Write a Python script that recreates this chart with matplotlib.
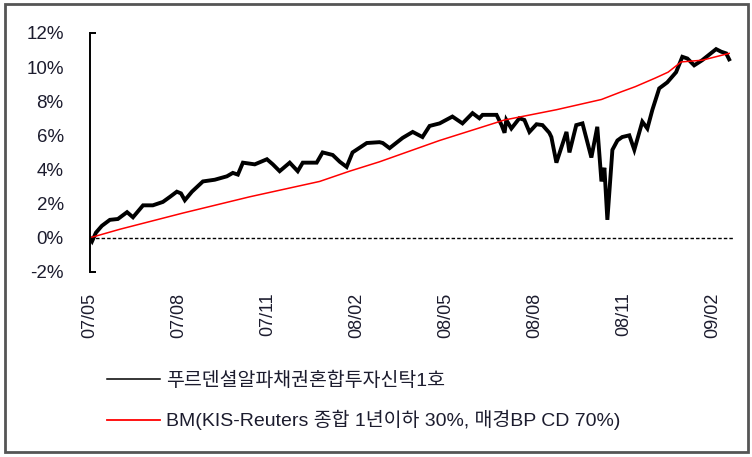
import numpy as np
import matplotlib.pyplot as plt
from matplotlib.lines import Line2D
from matplotlib.patches import Rectangle

plt.rcParams['font.family'] = ['Liberation Sans', 'Noto Sans CJK KR', 'DejaVu Sans']
plt.rcParams['axes.unicode_minus'] = False

# months since 2007/05
fund_month = [0.00, 0.07, 0.20, 0.40, 0.67, 0.94, 1.25, 1.45, 1.79, 2.12, 2.46, 2.70,
              2.93, 3.07, 3.20, 3.44, 3.81, 4.21, 4.62, 4.82, 4.99, 5.16, 5.56, 5.97,
              6.17, 6.40, 6.74, 7.01, 7.18, 7.65, 7.85, 8.19, 8.43, 8.66, 8.86, 9.34,
              9.77, 9.88, 10.11, 10.55, 10.89, 11.22, 11.46, 11.80, 12.23, 12.57, 12.91,
              13.14, 13.25, 13.72, 13.89, 13.99, 14.05, 14.22, 14.49, 14.66, 14.83,
              15.07, 15.27, 15.50, 15.57, 15.74, 15.91, 16.08, 16.18, 16.41, 16.62,
              16.92, 17.12, 17.26, 17.36, 17.46, 17.63, 17.80, 17.96, 18.20, 18.37,
              18.64, 18.81, 18.98, 19.21, 19.48, 19.78, 19.99, 20.16, 20.39, 20.66,
              21.13, 21.30, 21.47, 21.57]
fund_ret = [0.0, -0.2, 0.3, 0.7, 1.05, 1.1, 1.5, 1.2, 1.9, 1.9, 2.1, 2.4,
            2.7, 2.6, 2.2, 2.7, 3.3, 3.4, 3.6, 3.8, 3.7, 4.4, 4.3, 4.6,
            4.3, 3.9, 4.4, 3.9, 4.4, 4.4, 5.0, 4.85, 4.45, 4.15, 5.0, 5.55,
            5.6, 5.55, 5.25, 5.85, 6.2, 5.9, 6.55, 6.7, 7.1, 6.7, 7.3,
            7.0, 7.2, 7.2, 6.6, 6.15, 6.9, 6.4, 7.0, 6.9, 6.2,
            6.65, 6.6, 6.15, 5.9, 4.4, 5.3, 6.2, 5.0, 6.6, 6.7,
            4.7, 6.5, 3.3, 4.1, 1.05, 5.15, 5.7, 5.9, 6.0, 5.15,
            6.8, 6.4, 7.5, 8.75, 9.1, 9.7, 10.6, 10.5, 10.1, 10.4,
            11.05, 10.9, 10.8, 10.45]

bm_month = [0.00, 1.01, 3.14, 5.39, 7.75, 8.76, 9.77, 11.80, 13.99, 15.74, 17.26,
            17.93, 18.40, 19.07, 19.51, 19.95, 20.66, 21.57]
bm_ret = [0.0, 0.5, 1.45, 2.4, 3.3, 3.9, 4.45, 5.7, 6.9, 7.5, 8.1,
          8.55, 8.85, 9.35, 9.7, 10.3, 10.4, 10.8]

tick_months = [0, 3, 6, 9, 12, 15, 18, 21]
tick_labels = ['07/05', '07/08', '07/11', '08/02', '08/05', '08/08', '08/11', '09/02']
y_ticks = [-2, 0, 2, 4, 6, 8, 10, 12]

fund_name = '푸르덴셜알파채권혼합투자신탁1호'
bm_name = 'BM(KIS-Reuters 종합 1년이하 30%, 매경BP CD 70%)'

fig = plt.figure(figsize=(7.52, 4.57), dpi=100)
ax = fig.add_axes([0.1197, 0.405, 0.857, 0.523])

ax.plot(fund_month, fund_ret, color='black', linewidth=2.8, solid_joinstyle='miter')
ax.plot(bm_month, bm_ret, color='#ff0000', linewidth=1.1)
ax.axhline(0, color='black', linewidth=1.0, linestyle=(0, (2.5, 1.5)))

ax.set_xlim(0, 21.75)
ax.set_ylim(-2, 12)
ax.set_yticks(y_ticks)
ax.set_yticklabels(['%d%%' % v for v in y_ticks])
ax.yaxis.remove_overlapping_locs = False
ax.set_yticks([-2, 12], minor=True)
ax.set_xticks(tick_months)
ax.set_xticklabels(tick_labels, rotation=90)

ax.tick_params(axis='y', which='major', length=0, pad=19, labelsize=13.5, labelcolor='#1c1c2e')
ax.tick_params(axis='y', which='minor', direction='in', length=4, width=1.4)
ax.tick_params(axis='x', length=0, pad=15, labelsize=13, labelcolor='#1c1c2e')
for lbl in ax.get_xticklabels():
    lbl.set_verticalalignment('top')

for side in ['top', 'right', 'bottom']:
    ax.spines[side].set_visible(False)
ax.spines['left'].set_linewidth(1.4)

handles = [Line2D([], [], color='black', linewidth=1.1),
           Line2D([], [], color='#ff0000', linewidth=1.3)]
fig.legend(handles, [fund_name, bm_name], loc='center left',
           bbox_to_anchor=(0.142, 0.1225), frameon=False, fontsize=14,
           handlelength=2.75, handletextpad=0.3, labelspacing=1.05, borderpad=0,
           borderaxespad=0, labelcolor='#1c1c2e')

# outer frame
fig.patches.append(Rectangle((0.007, 0.012), 0.988, 0.979, transform=fig.transFigure,
                             fill=False, edgecolor='#555555', linewidth=2))

fig.savefig('out.png', dpi=100)
